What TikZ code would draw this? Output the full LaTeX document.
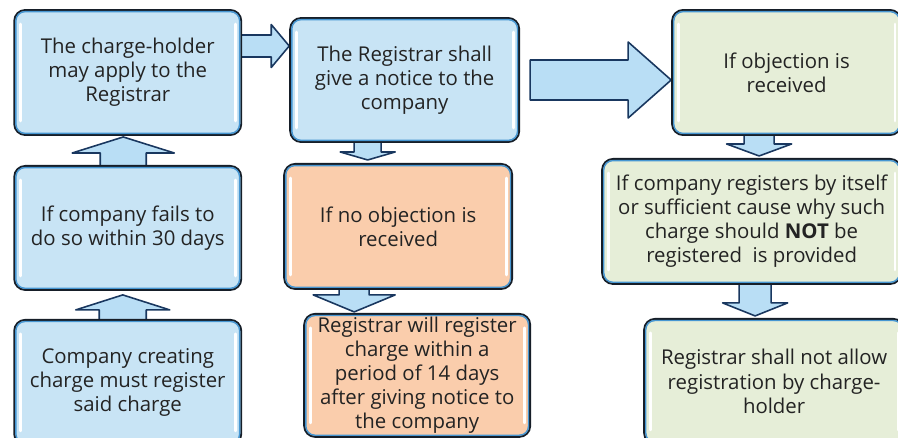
\documentclass[tikz,border=0pt]{standalone}
\usepackage{fontspec}
\setmainfont{Open Sans}
\usepackage{tikz}
\usetikzlibrary{positioning,calc}
\pgfdeclarelayer{bg}
\pgfsetlayers{bg,main}
\definecolor{bluefill}{RGB}{200,228,245}
\definecolor{orangefill}{RGB}{250,205,172}
\definecolor{greenfill}{RGB}{230,238,216}
\definecolor{boxline}{RGB}{22,30,40}
\definecolor{edgeblue}{RGB}{70,150,210}
\definecolor{arrowfill}{RGB}{185,222,245}
\definecolor{arrowline}{RGB}{25,55,95}
\definecolor{txt}{RGB}{35,35,35}

\begin{document}
\begin{tikzpicture}

\tikzset{
    box/.style={draw=boxline, line width=1.1pt, rounded corners=0.22cm,
      align=center, text=txt, inner sep=1pt,
      font=\fontsize{11.6}{13.7}\selectfont},
    bluebox/.style={box, fill=bluefill},
    orangebox/.style={box, fill=orangefill},
    greenbox/.style={box, fill=greenfill},
    inneredge/.style={draw=edgeblue, line width=0.8pt, rounded corners=0.18cm},
    shine/.style={draw=white, line width=1.6pt, line cap=round},
    fat/.style={draw=arrowline, fill=arrowfill, line width=0.9pt, line join=round},
    fat arrow/.style args={(#1) to (#2) width #3 head #4 length #5}{
        insert path={
            ($(#2)!#5!(#1)$) coordinate (hb)
            ($(#1)!#3!90:(#2)$) -- ($(hb)!#3!90:(#2)$) -- ($(hb)!#4!90:(#2)$)
            -- (#2) -- ($(hb)!#4!-90:(#2)$) -- ($(hb)!#3!-90:(#2)$)
            -- ($(#1)!#3!-90:(#2)$) -- cycle
        }
    },
}

  \useasboundingbox (0,0) rectangle (17.96,-8.74);

  \node [bluebox, minimum width=4.54cm, minimum height=2.5cm]
  (apply) at (2.555,-1.45) {The charge-holder\\may apply to the\\Registrar};
  \node [bluebox, minimum width=4.54cm, minimum height=2.48cm,
  below=0.58cm of apply] (fails) {If company fails to\\do so within 30 days};
  \node [bluebox, minimum width=4.54cm, minimum height=2.5cm,
  below=0.56cm of fails] (create) {Company creating\\charge must register\\said charge};

  \node [bluebox, minimum width=4.58cm, minimum height=2.48cm,
  right=0.94cm of apply, yshift=-0.15cm]
  (notice) {The Registrar shall\\give a notice to the\\company};
  \node [orangebox, minimum width=4.56cm, minimum height=2.5cm,
  below=0.4cm of notice, xshift=-0.13cm] (noobj) {If no objection is\\received};
  \node [orangebox, minimum width=4.52cm, minimum height=2.46cm,
  below=0.46cm of noobj, xshift=0.38cm]
  (register) {Registrar will register\\charge within a\\period of 14 days\\after giving notice to\\the company};

  \node [greenbox, minimum width=4.58cm, minimum height=2.5cm,
  right=3.02cm of notice, yshift=0.15cm] (objection) {If objection is\\received};
  \node [greenbox, minimum width=5.98cm, minimum height=2.5cm,
  below=0.44cm of objection, xshift=-0.7cm]
  (registers) {If company registers by itself\\or sufficient cause why such\\charge should \textbf{NOT} be\\registered~ is provided};
  \node [greenbox, minimum width=5.2cm, minimum height=2.5cm,
  below=0.66cm of registers, xshift=0.45cm]
  (refuse) {Registrar shall not allow\\registration by charge-\\holder};

  \foreach \b in {apply,fails,create,notice,noobj,register,objection,registers,refuse} {
    \draw [inneredge] ([shift={(1.5pt,-1.5pt)}]\b.north west) rectangle ([shift={(-1.5pt,1.5pt)}]\b.south east);
    \draw [shine] ([shift={(4pt,-0.3cm)}]\b.north west) -- ([shift={(4pt,0.3cm)}]\b.south west);
    \draw [shine] ([shift={(-4pt,-0.3cm)}]\b.north east) -- ([shift={(-4pt,0.3cm)}]\b.south east);
  }

  % block arrows, ends taken from the boxes
  \coordinate (u1s) at ([xshift=-0.1cm, yshift=-0.1cm]create.north);
  \coordinate (u1t) at ([xshift=-0.1cm, yshift=-0.08cm]fails.south);
  \coordinate (u2s) at ([xshift=-0.09cm, yshift=-0.1cm]fails.north);
  \coordinate (u2t) at ([xshift=-0.09cm, yshift=-0.02cm]apply.south);
  \coordinate (r1s) at ([xshift=-0.1cm, yshift=0.53cm]apply.east);
  \coordinate (r1t) at (r1s -| notice.west);
  \coordinate (r2s) at ([xshift=0.2cm]notice.east);
  \coordinate (r2t) at (notice.east -| objection.west);
  \coordinate (d1s) at ([xshift=-0.74cm, yshift=0.1cm]notice.south);
  \coordinate (d1t) at ($(d1s |- noobj.north)+(0,0.06)$);
  \coordinate (d2s) at ([xshift=-0.88cm, yshift=0.1cm]noobj.south);
  \coordinate (d2t) at ($(d2s |- register.north)+(0,0.02)$);
  \coordinate (d3s) at ([xshift=-0.55cm, yshift=0.1cm]objection.south);
  \coordinate (d3t) at ($(d3s |- registers.north)+(0,0.04)$);
  \coordinate (d4s) at ([xshift=0.07cm, yshift=0.1cm]registers.south);
  \coordinate (d4t) at ($(d4s |- refuse.north)+(0,0.04)$);

  \begin{pgfonlayer}{bg}
    \path [fat, fat arrow={(u1s) to (u1t) width 0.47cm head 0.94cm length 0.3cm}];
    \path [fat, fat arrow={(u2s) to (u2t) width 0.46cm head 1.02cm length 0.32cm}];
    \path [fat, fat arrow={(r1s) to (r1t) width 0.22cm head 0.43cm length 0.36cm}];
    \path [fat, fat arrow={(r2s) to (r2t) width 0.4cm head 0.76cm length 0.86cm}];
    \path [fat, fat arrow={(d1s) to (d1t) width 0.27cm head 0.55cm length 0.16cm}];
    \path [fat, fat arrow={(d2s) to (d2t) width 0.3cm head 0.82cm length 0.34cm}];
    \path [fat, fat arrow={(d3s) to (d3t) width 0.3cm head 0.65cm length 0.24cm}];
    \path [fat, fat arrow={(d4s) to (d4t) width 0.32cm head 0.65cm length 0.26cm}];
  \end{pgfonlayer}

\end{tikzpicture}
\end{document}
